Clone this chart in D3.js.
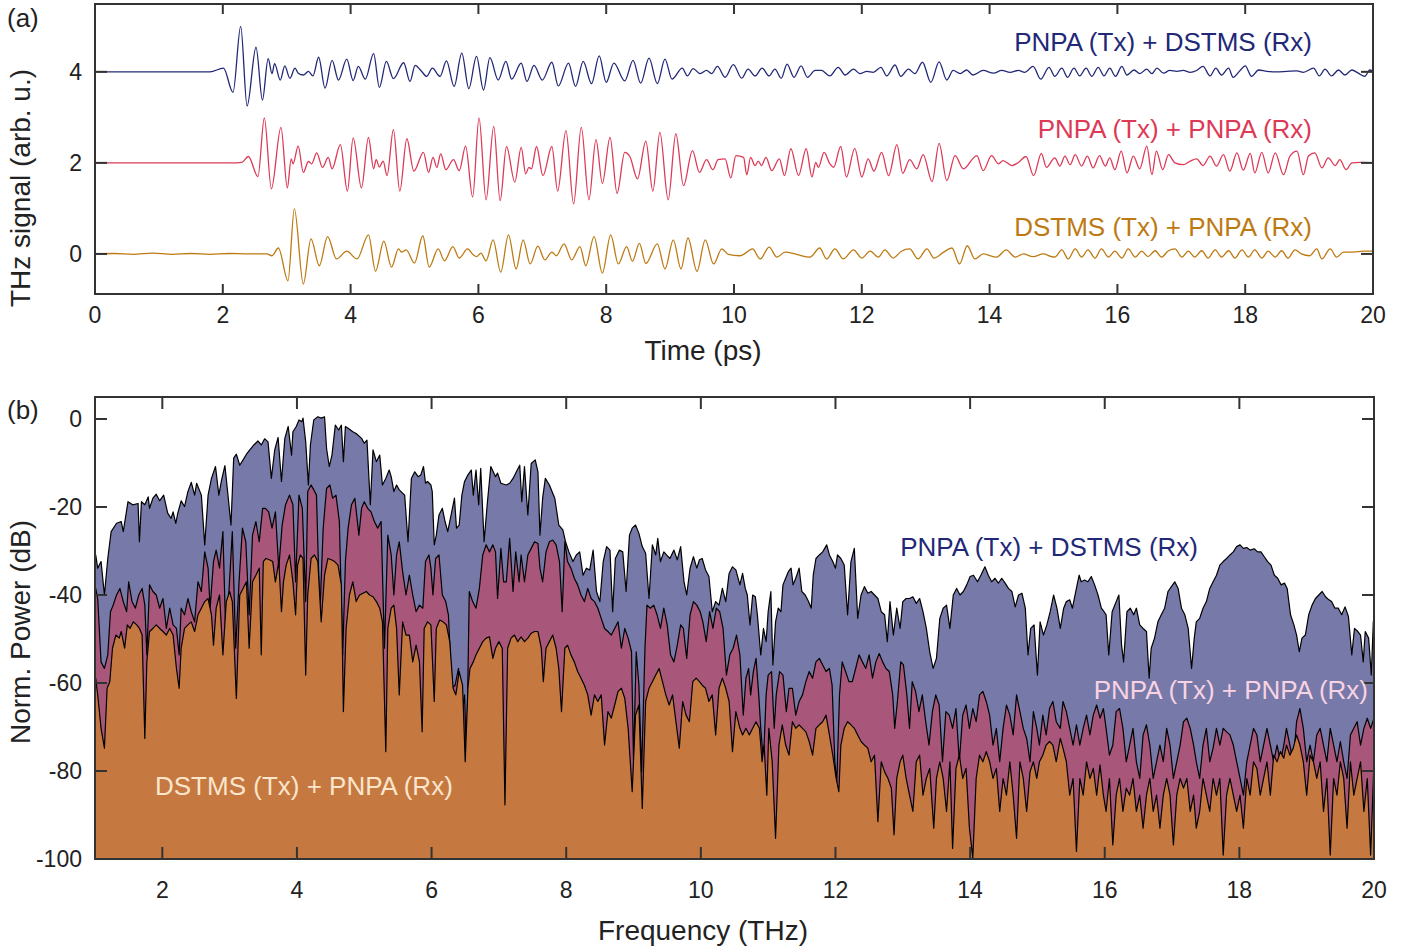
<!DOCTYPE html>
<html><head><meta charset="utf-8">
<script src="https://cdn.jsdelivr.net/npm/d3@7"></script>
<style>
body{margin:0;background:#fff;}
svg{display:block;font-family:"Liberation Sans",Arial,sans-serif;}
</style></head><body>
<svg id="chart" width="1412" height="950"></svg>
<script>
// ---------------- Panel (a): time-domain traces [time ps, signal] ----------------
const timeTicks = [0,2,4,6,8,10,12,14,16,18,20];
const signalTicks = [0,2,4];
const offsetPD = 4, offsetPP = 2, offsetDP = 0;
const labelPD = "PNPA (Tx) + DSTMS (Rx)";
const labelPP = "PNPA (Tx) + PNPA (Rx)";
const labelDP = "DSTMS (Tx) + PNPA (Rx)";

const tracePD = [[0,0],[1.80,0],[2.01,0.08],[2.16,-0.45],[2.28,1.0],[2.38,-0.75],[2.52,0.54],[2.62,-0.62],[2.71,0.29],[2.77,-0.04],[2.81,0.18],[2.90,-0.18],[2.97,0.13],[3.05,-0.14],[3.13,0.08],[3.18,-0.03],[3.26,-0.07],[3.34,0.01],[3.41,-0.09],[3.50,0.32],[3.60,-0.36],[3.71,0.25],[3.81,-0.18],[3.94,0.28],[4.04,-0.19],[4.12,0.12],[4.23,-0.16],[4.36,0.40],[4.45,-0.34],[4.56,0.23],[4.67,-0.15],[4.83,0.20],[4.93,-0.21],[5.01,0.14],[5.10,0.03],[5.19,-0.10],[5.28,0.08],[5.40,-0.10],[5.50,0.24],[5.62,-0.32],[5.74,0.41],[5.85,-0.37],[5.97,0.34],[6.08,-0.40],[6.18,0.31],[6.31,-0.18],[6.43,0.23],[6.52,-0.16],[6.67,0.19],[6.76,-0.21],[6.87,0.14],[7.00,-0.18],[7.15,0.21],[7.25,-0.31],[7.41,0.19],[7.52,-0.32],[7.64,0.23],[7.77,-0.26],[7.89,0.35],[8.00,-0.23],[8.12,0.19],[8.29,-0.20],[8.42,0.25],[8.54,-0.25],[8.67,0.30],[8.80,-0.26],[8.92,0.28],[9.03,-0.16],[9.19,0.08],[9.27,-0.09],[9.36,0.07],[9.47,-0.04],[9.57,0.03],[9.65,-0.04],[9.74,0.12],[9.86,-0.12],[9.99,0.16],[10.12,-0.14],[10.22,0.06],[10.33,-0.09],[10.44,0.08],[10.55,-0.09],[10.64,0.06],[10.74,-0.14],[10.83,0.17],[10.94,-0.12],[11.05,0.13],[11.15,-0.12],[11.27,0.03],[11.37,0.03],[11.50,-0.09],[11.63,0.10],[11.74,-0.07],[11.87,0.06],[11.97,-0.04],[12.08,0.01],[12.18,-0.01],[12.30,0.10],[12.39,-0.09],[12.52,0.15],[12.61,-0.10],[12.73,0.06],[12.83,-0.04],[12.95,0.21],[13.08,-0.23],[13.21,0.22],[13.33,-0.18],[13.43,0.03],[13.54,-0.04],[13.64,0.04],[13.74,-0.07],[13.90,0.03],[14.06,-0.03],[14.19,0.03],[14.32,-0.01],[14.45,0.03],[14.55,-0.01],[14.68,0.12],[14.80,-0.16],[14.93,0.10],[15.02,-0.10],[15.13,0.08],[15.22,-0.12],[15.32,0.08],[15.41,-0.09],[15.51,0.08],[15.60,-0.10],[15.70,0.10],[15.79,-0.09],[15.88,0.08],[15.97,-0.10],[16.07,0.12],[16.15,-0.07],[16.26,0.04],[16.35,-0.04],[16.46,0.06],[16.54,-0.04],[16.62,0.08],[16.72,-0.03],[16.82,0.03],[16.93,0.01],[17.03,0.03],[17.14,-0.01],[17.24,0.03],[17.34,0.12],[17.45,-0.09],[17.54,0.08],[17.63,-0.07],[17.74,0.08],[17.81,-0.12],[17.92,0.03],[18.00,0.13],[18.10,-0.10],[18.21,0.04],[18.34,0.01],[18.49,0],[18.65,0.01],[18.81,0.02],[18.91,-0.01],[19.07,0.08],[19.16,-0.09],[19.25,0.06],[19.35,-0.09],[19.46,0.04],[19.56,-0.07],[19.67,0.04],[19.77,-0.03],[19.87,-0.10],[19.95,0.04],[20,0.01]];

const tracePP = [[0,0],[2.22,0],[2.30,0.01],[2.40,0.14],[2.55,-0.30],[2.65,0.99],[2.76,-0.57],[2.91,0.78],[3.01,-0.55],[3.07,0.09],[3.10,-0.02],[3.18,0.37],[3.26,-0.21],[3.34,0.03],[3.39,-0.02],[3.47,0.22],[3.56,-0.10],[3.65,0.12],[3.71,-0.13],[3.84,0.40],[3.95,-0.62],[4.04,0.55],[4.17,-0.55],[4.28,0.56],[4.36,-0.13],[4.40,0.07],[4.45,-0.09],[4.51,0.04],[4.57,-0.28],[4.67,0.73],[4.77,-0.62],[4.88,0.53],[4.99,-0.18],[5.14,0.23],[5.22,-0.21],[5.29,0.12],[5.35,-0.10],[5.41,0.20],[5.49,-0.15],[5.61,0.07],[5.70,-0.17],[5.80,0.37],[5.91,-0.75],[6.01,0.99],[6.12,-0.81],[6.24,0.80],[6.34,-0.83],[6.44,0.36],[6.57,-0.42],[6.67,0.34],[6.74,-0.24],[6.79,-0.10],[6.83,-0.13],[6.91,0.36],[7.01,-0.28],[7.15,0.36],[7.24,-0.62],[7.37,0.71],[7.49,-0.90],[7.61,0.78],[7.73,-0.81],[7.84,0.51],[7.94,-0.45],[8.06,0.56],[8.17,-0.67],[8.29,0.23],[8.37,0.14],[8.49,-0.35],[8.62,0.48],[8.73,-0.62],[8.84,0.67],[8.97,-0.81],[9.09,0.64],[9.21,-0.50],[9.35,0.27],[9.46,-0.21],[9.57,0.07],[9.67,-0.15],[9.75,0.07],[9.86,0.09],[9.95,-0.33],[10.03,0.16],[10.15,0.12],[10.20,-0.26],[10.26,0.12],[10.33,-0.06],[10.38,0.04],[10.43,-0.06],[10.50,0.12],[10.59,-0.17],[10.71,0.09],[10.79,-0.28],[10.89,0.31],[11.01,-0.28],[11.13,0.31],[11.22,-0.31],[11.28,0.01],[11.32,-0.10],[11.41,0.23],[11.50,-0.02],[11.56,-0.10],[11.67,0.36],[11.76,-0.31],[11.89,0.32],[12.00,-0.31],[12.10,0.09],[12.19,-0.18],[12.31,0.23],[12.42,-0.28],[12.55,0.40],[12.64,-0.23],[12.75,0.07],[12.86,-0.13],[12.96,0.18],[13.10,-0.41],[13.21,0.43],[13.33,-0.39],[13.46,0.16],[13.59,-0.13],[13.80,0.16],[13.90,-0.17],[14.03,0.16],[14.14,-0.02],[14.21,0.05],[14.35,-0.06],[14.45,0.01],[14.57,0.14],[14.69,-0.28],[14.81,0.21],[14.89,-0.10],[15.02,0.11],[15.10,-0.07],[15.18,0.15],[15.26,-0.04],[15.34,0.18],[15.44,-0.07],[15.53,0.15],[15.62,-0.11],[15.72,0.16],[15.81,-0.07],[15.88,0.11],[15.96,-0.15],[16.06,0.26],[16.15,-0.22],[16.25,0.15],[16.35,-0.13],[16.46,0.37],[16.54,-0.26],[16.61,0.26],[16.71,-0.15],[16.80,0.18],[16.90,0],[17.03,-0.04],[17.14,0.04],[17.24,0.09],[17.34,-0.06],[17.45,0.15],[17.55,-0.07],[17.66,0.18],[17.76,-0.18],[17.87,0.22],[17.97,-0.16],[18.08,0.21],[18.15,-0.22],[18.26,0.23],[18.36,-0.22],[18.47,0.22],[18.60,-0.26],[18.70,0.15],[18.81,0.26],[18.91,-0.26],[18.99,0.15],[19.09,0.22],[19.20,-0.11],[19.30,0.11],[19.41,-0.06],[19.48,0.07],[19.58,-0.15],[19.67,0],[19.80,0.01],[20,0]];

const traceDP = [[0,0],[0.3,0.01],[0.6,-0.01],[0.9,0.02],[1.2,-0.01],[1.5,0.01],[1.8,-0.01],[2.1,0.01],[2.4,0],[2.69,0],[2.77,-0.04],[2.87,0.13],[3.02,-0.59],[3.12,0.99],[3.26,-0.66],[3.38,0.33],[3.51,-0.26],[3.64,0.38],[3.78,-0.11],[3.94,0.06],[4.10,-0.11],[4.28,0.42],[4.39,-0.38],[4.52,0.28],[4.64,-0.29],[4.75,0.11],[4.80,0.04],[4.87,0.09],[5.00,-0.20],[5.13,0.40],[5.23,-0.29],[5.37,0.11],[5.47,-0.15],[5.60,0.16],[5.70,-0.09],[5.83,0.11],[5.92,-0.02],[5.97,-0.06],[6.04,0.02],[6.12,-0.15],[6.23,0.31],[6.35,-0.40],[6.47,0.42],[6.59,-0.33],[6.70,0.31],[6.81,-0.22],[6.93,0.17],[7.04,-0.13],[7.15,0.04],[7.22,-0.04],[7.34,0.22],[7.46,-0.13],[7.59,0.16],[7.68,-0.26],[7.81,0.38],[7.94,-0.42],[8.07,0.42],[8.19,-0.22],[8.32,0.16],[8.41,-0.16],[8.52,0.23],[8.62,-0.21],[8.80,0.22],[8.92,-0.33],[9.05,0.31],[9.17,-0.33],[9.28,0.35],[9.42,-0.38],[9.55,0.31],[9.68,-0.22],[9.81,0.11],[9.91,-0.01],[10.09,-0.04],[10.15,-0.01],[10.29,0.11],[10.41,-0.11],[10.55,0.15],[10.67,-0.07],[10.80,0.04],[10.98,-0.01],[11.19,-0.07],[11.34,0.13],[11.45,-0.11],[11.58,0.11],[11.71,-0.11],[11.87,0.09],[12.00,-0.09],[12.13,0.06],[12.26,-0.07],[12.36,0.09],[12.49,-0.09],[12.62,0.06],[12.75,0.11],[12.88,-0.11],[13.02,0.11],[13.13,-0.09],[13.28,0.04],[13.41,0.13],[13.53,-0.22],[13.65,0.18],[13.77,-0.11],[13.90,0],[14.11,-0.07],[14.26,0.09],[14.40,-0.07],[14.53,0],[14.68,-0.06],[14.84,0],[14.97,-0.06],[15.02,-0.07],[15.13,0.09],[15.23,-0.11],[15.34,0.11],[15.44,-0.07],[15.54,0.09],[15.65,-0.09],[15.75,0.11],[15.86,-0.07],[15.96,0.06],[16.07,-0.09],[16.17,0.11],[16.28,-0.07],[16.38,0.06],[16.48,-0.06],[16.59,0.07],[16.69,-0.07],[16.80,0.07],[16.90,0.11],[17.01,-0.07],[17.11,0.06],[17.21,-0.07],[17.32,0.07],[17.42,-0.09],[17.53,0.09],[17.63,-0.07],[17.74,0.07],[17.84,-0.09],[17.95,0.09],[18.05,-0.07],[18.15,0.09],[18.26,-0.09],[18.36,0.06],[18.47,-0.07],[18.57,0.07],[18.67,-0.09],[18.78,0.09],[18.88,0],[19.01,-0.04],[19.12,0.11],[19.20,-0.11],[19.33,0.11],[19.43,-0.07],[19.54,0.04],[19.69,0.04],[19.85,0.06],[20,0.06]];

// ---------------- Panel (b): spectra [frequency THz, power dB] ----------------
const freqTicks = [2,4,6,8,10,12,14,16,18,20];
const powerTicks = [0,-20,-40,-60,-80,-100];

const spectrumPD = [[1.01,-30.9],[1.04,-33.9],[1.09,-32.4],[1.14,-40.0],[1.19,-31.7],[1.24,-25.6],[1.32,-23.7],[1.39,-23.3],[1.42,-25.6],[1.49,-18.8],[1.56,-19.5],[1.64,-19.2],[1.66,-27.9],[1.69,-18.8],[1.74,-19.5],[1.79,-17.7],[1.81,-20.3],[1.86,-18.0],[1.91,-17.1],[1.96,-18.6],[2.02,-17.3],[2.08,-21.4],[2.13,-22.6],[2.16,-21.1],[2.20,-23.7],[2.23,-21.4],[2.28,-18.6],[2.33,-19.9],[2.38,-16.5],[2.43,-14.4],[2.48,-17.3],[2.51,-14.6],[2.58,-17.3],[2.63,-28.6],[2.68,-17.3],[2.73,-13.5],[2.79,-10.8],[2.84,-17.3],[2.88,-13.9],[2.93,-10.6],[2.98,-18.0],[3.02,-24.1],[3.06,-8.9],[3.10,-8.0],[3.15,-10.5],[3.20,-9.3],[3.25,-8.0],[3.30,-7.0],[3.36,-5.9],[3.42,-5.0],[3.47,-5.9],[3.52,-4.5],[3.57,-5.2],[3.62,-13.5],[3.67,-7.0],[3.72,-4.2],[3.77,-14.2],[3.82,-4.4],[3.87,-1.7],[3.92,-8.2],[3.94,-2.9],[3.99,-1.7],[4.03,-0.2],[4.07,-0.6],[4.09,0.2],[4.13,-5.2],[4.17,-15.0],[4.20,-5.9],[4.25,-0.2],[4.31,0.5],[4.36,0.2],[4.41,0.5],[4.44,-6.7],[4.48,-10.8],[4.52,-8.2],[4.57,-1.4],[4.62,-2.5],[4.66,-1.4],[4.69,-9.7],[4.72,-1.7],[4.76,-2.1],[4.83,-2.9],[4.88,-3.3],[4.96,-4.4],[5.00,-5.5],[5.04,-4.8],[5.09,-19.5],[5.13,-7.0],[5.18,-9.7],[5.23,-8.2],[5.27,-15.0],[5.32,-13.5],[5.37,-11.6],[5.40,-13.1],[5.44,-16.5],[5.48,-15.0],[5.52,-16.1],[5.60,-17.3],[5.65,-27.9],[5.70,-13.5],[5.75,-12.0],[5.80,-13.1],[5.84,-12.7],[5.88,-10.8],[5.91,-14.6],[5.94,-14.2],[5.99,-15.0],[6.01,-16.5],[6.04,-28.6],[6.07,-26.4],[6.11,-21.8],[6.16,-20.3],[6.20,-23.3],[6.24,-25.6],[6.29,-21.8],[6.34,-18.0],[6.37,-24.8],[6.41,-24.1],[6.45,-17.3],[6.49,-14.2],[6.54,-12.7],[6.59,-11.6],[6.62,-17.3],[6.66,-11.6],[6.70,-19.5],[6.73,-11.2],[6.78,-27.9],[6.83,-18.8],[6.88,-10.8],[6.95,-13.1],[6.98,-12.3],[7.03,-14.6],[7.11,-15.0],[7.16,-14.6],[7.21,-13.5],[7.26,-12.0],[7.31,-10.5],[7.34,-18.8],[7.38,-10.8],[7.43,-21.8],[7.48,-10.1],[7.54,-9.3],[7.58,-12.0],[7.61,-26.4],[7.65,-18.0],[7.69,-13.5],[7.75,-15.0],[7.83,-18.0],[7.89,-24.1],[7.95,-25.2],[7.99,-27.9],[8.04,-30.2],[8.10,-32.4],[8.15,-30.9],[8.20,-30.2],[8.25,-35.5],[8.30,-33.9],[8.35,-34.3],[8.40,-29.8],[8.45,-39.2],[8.50,-41.5],[8.55,-32.4],[8.60,-29.0],[8.65,-29.8],[8.69,-43.8],[8.73,-31.7],[8.79,-29.8],[8.84,-30.2],[8.89,-39.2],[8.94,-26.4],[8.98,-24.8],[9.03,-24.1],[9.08,-26.0],[9.13,-29.0],[9.18,-30.5],[9.23,-40.8],[9.28,-28.6],[9.33,-30.9],[9.36,-27.1],[9.40,-32.4],[9.45,-30.2],[9.49,-30.9],[9.54,-31.7],[9.60,-29.8],[9.65,-32.0],[9.70,-29.0],[9.75,-37.0],[9.79,-40.0],[9.84,-33.9],[9.89,-31.3],[9.94,-33.9],[9.98,-32.0],[10.02,-31.7],[10.07,-34.3],[10.12,-35.8],[10.17,-43.8],[10.22,-41.5],[10.27,-42.3],[10.32,-38.5],[10.37,-41.5],[10.42,-35.1],[10.47,-33.6],[10.52,-34.3],[10.58,-37.7],[10.62,-35.1],[10.66,-38.5],[10.69,-40.0],[10.73,-46.8],[10.77,-40.0],[10.81,-40.4],[10.84,-44.5],[10.89,-53.6],[10.93,-47.6],[10.97,-50.6],[11.00,-43.8],[11.04,-39.2],[11.07,-55.9],[11.11,-46.1],[11.15,-43.0],[11.19,-43.8],[11.22,-37.7],[11.26,-36.2],[11.30,-34.7],[11.34,-33.9],[11.37,-37.7],[11.41,-36.2],[11.46,-33.9],[11.50,-39.2],[11.55,-40.0],[11.60,-41.5],[11.64,-43.0],[11.67,-35.5],[11.71,-31.7],[11.76,-30.9],[11.81,-30.2],[11.87,-28.6],[11.91,-30.9],[11.96,-32.4],[12.00,-33.9],[12.03,-30.9],[12.08,-31.7],[12.13,-33.2],[12.18,-44.5],[12.23,-32.4],[12.28,-29.4],[12.33,-45.3],[12.38,-40.0],[12.43,-38.1],[12.48,-39.6],[12.53,-39.2],[12.58,-40.0],[12.63,-40.8],[12.68,-43.8],[12.73,-44.5],[12.77,-50.6],[12.81,-41.5],[12.86,-49.1],[12.91,-43.0],[12.96,-47.6],[13.00,-41.5],[13.05,-40.8],[13.10,-40.8],[13.15,-40.4],[13.20,-41.9],[13.25,-40.8],[13.30,-43.8],[13.35,-47.6],[13.40,-52.9],[13.45,-56.7],[13.50,-54.4],[13.55,-45.3],[13.60,-43.0],[13.65,-42.3],[13.70,-47.6],[13.75,-40.0],[13.80,-38.5],[13.85,-40.0],[13.90,-39.2],[13.95,-37.7],[14.00,-35.8],[14.05,-35.5],[14.11,-37.0],[14.16,-35.5],[14.22,-33.6],[14.27,-35.5],[14.32,-37.0],[14.37,-36.2],[14.42,-37.3],[14.47,-36.2],[14.52,-37.3],[14.57,-38.5],[14.62,-39.2],[14.67,-42.7],[14.72,-40.0],[14.77,-39.6],[14.82,-43.0],[14.86,-53.6],[14.90,-47.6],[14.95,-46.8],[15.00,-58.2],[15.04,-46.1],[15.09,-49.1],[15.14,-46.8],[15.19,-43.8],[15.24,-40.0],[15.29,-43.0],[15.34,-47.6],[15.39,-43.0],[15.43,-41.5],[15.48,-41.1],[15.52,-43.0],[15.57,-39.2],[15.62,-35.5],[15.65,-37.0],[15.70,-36.6],[15.75,-37.0],[15.80,-35.8],[15.85,-37.7],[15.90,-40.0],[15.95,-43.0],[15.99,-43.8],[16.02,-44.5],[16.06,-53.6],[16.11,-43.8],[16.17,-41.5],[16.21,-40.0],[16.25,-51.4],[16.28,-55.2],[16.33,-43.8],[16.38,-43.0],[16.43,-44.5],[16.47,-43.0],[16.52,-46.8],[16.57,-47.6],[16.62,-48.3],[16.66,-58.9],[16.69,-52.1],[16.74,-49.8],[16.79,-46.1],[16.84,-44.5],[16.89,-43.0],[16.94,-39.2],[16.99,-38.1],[17.04,-37.0],[17.09,-38.5],[17.14,-43.0],[17.19,-44.5],[17.24,-47.6],[17.29,-56.7],[17.33,-49.8],[17.36,-46.1],[17.41,-45.3],[17.46,-43.0],[17.51,-41.5],[17.56,-38.5],[17.61,-37.0],[17.66,-35.5],[17.71,-33.2],[17.76,-32.4],[17.81,-31.7],[17.86,-30.9],[17.91,-30.2],[17.96,-29.0],[18.01,-28.6],[18.06,-29.4],[18.11,-29.2],[18.16,-29.8],[18.22,-29.5],[18.27,-30.2],[18.32,-30.2],[18.37,-31.3],[18.42,-32.4],[18.47,-33.2],[18.52,-35.5],[18.57,-36.2],[18.62,-37.7],[18.67,-37.3],[18.71,-38.5],[18.76,-44.5],[18.81,-46.8],[18.85,-49.1],[18.89,-52.9],[18.93,-49.8],[18.98,-49.1],[19.03,-44.5],[19.08,-42.3],[19.13,-40.8],[19.18,-40.0],[19.23,-39.2],[19.28,-40.4],[19.33,-41.1],[19.37,-41.5],[19.42,-43.0],[19.47,-43.0],[19.52,-44.5],[19.57,-42.7],[19.62,-44.9],[19.67,-53.6],[19.71,-47.6],[19.76,-48.3],[19.80,-49.1],[19.84,-55.2],[19.87,-48.3],[19.92,-49.8],[19.96,-58.2],[19.99,-46.1],[20.0,-45.3]];

const spectrumPP = [[1.01,-38.5],[1.04,-40.8],[1.09,-55.2],[1.14,-56.7],[1.19,-53.6],[1.23,-43.8],[1.27,-42.3],[1.32,-40.0],[1.37,-38.5],[1.42,-41.5],[1.47,-43.8],[1.50,-37.0],[1.55,-41.5],[1.60,-43.0],[1.65,-40.0],[1.70,-38.5],[1.74,-42.3],[1.77,-53.6],[1.81,-37.7],[1.86,-39.2],[1.91,-40.0],[1.96,-43.0],[2.01,-40.8],[2.06,-47.6],[2.11,-43.0],[2.16,-46.8],[2.21,-47.6],[2.25,-53.6],[2.28,-43.0],[2.33,-44.5],[2.38,-40.8],[2.43,-43.8],[2.48,-46.1],[2.53,-37.0],[2.58,-39.2],[2.63,-30.2],[2.68,-33.9],[2.71,-43.0],[2.76,-32.4],[2.80,-29.8],[2.85,-33.9],[2.90,-25.6],[2.94,-47.6],[2.99,-39.2],[3.04,-25.6],[3.09,-52.1],[3.14,-37.0],[3.19,-24.8],[3.24,-27.9],[3.29,-44.5],[3.34,-26.4],[3.39,-23.3],[3.44,-27.9],[3.49,-20.3],[3.53,-20.3],[3.58,-21.1],[3.63,-24.8],[3.68,-21.1],[3.73,-33.9],[3.78,-24.1],[3.83,-19.5],[3.89,-17.3],[3.94,-19.5],[3.98,-37.0],[4.03,-17.3],[4.08,-20.3],[4.13,-41.5],[4.16,-16.5],[4.21,-15.0],[4.25,-16.1],[4.29,-17.3],[4.34,-44.5],[4.39,-24.8],[4.44,-15.8],[4.49,-15.0],[4.53,-18.0],[4.58,-17.3],[4.63,-23.3],[4.68,-53.6],[4.72,-32.4],[4.76,-24.8],[4.81,-19.5],[4.86,-18.0],[4.92,-26.4],[4.96,-20.3],[5.00,-18.8],[5.05,-20.3],[5.10,-21.1],[5.15,-23.3],[5.20,-24.8],[5.25,-23.3],[5.30,-52.1],[5.35,-26.4],[5.40,-30.9],[5.44,-40.0],[5.48,-30.9],[5.52,-27.9],[5.57,-34.7],[5.62,-40.0],[5.67,-35.5],[5.72,-40.0],[5.77,-43.8],[5.82,-42.3],[5.87,-43.0],[5.91,-32.4],[5.96,-30.9],[5.99,-33.9],[6.02,-40.0],[6.06,-31.7],[6.11,-30.9],[6.16,-40.0],[6.21,-41.5],[6.25,-44.5],[6.30,-61.2],[6.35,-60.5],[6.40,-56.7],[6.45,-67.3],[6.49,-62.7],[6.52,-77.9],[6.56,-39.2],[6.61,-41.5],[6.66,-43.0],[6.71,-38.5],[6.76,-30.9],[6.81,-28.6],[6.86,-30.2],[6.91,-28.6],[6.95,-30.2],[6.98,-40.8],[7.03,-29.4],[7.07,-37.0],[7.11,-37.0],[7.16,-27.1],[7.21,-39.2],[7.25,-30.2],[7.30,-37.0],[7.33,-30.9],[7.38,-37.0],[7.43,-30.9],[7.48,-29.4],[7.53,-27.9],[7.58,-28.3],[7.61,-33.9],[7.65,-37.0],[7.70,-30.2],[7.75,-27.9],[7.80,-27.5],[7.85,-28.6],[7.90,-32.4],[7.94,-43.8],[7.98,-27.9],[8.02,-32.4],[8.07,-33.9],[8.12,-36.2],[8.17,-37.7],[8.22,-40.0],[8.27,-41.5],[8.32,-38.5],[8.37,-40.8],[8.42,-41.5],[8.47,-43.0],[8.52,-45.3],[8.57,-47.6],[8.62,-48.3],[8.67,-49.1],[8.72,-47.6],[8.77,-46.1],[8.82,-52.1],[8.87,-47.6],[8.92,-49.8],[8.97,-52.9],[9.00,-77.9],[9.04,-52.9],[9.08,-60.5],[9.12,-80.2],[9.17,-52.1],[9.20,-42.3],[9.25,-43.0],[9.30,-42.3],[9.35,-44.5],[9.40,-47.6],[9.45,-43.0],[9.50,-46.8],[9.55,-53.6],[9.60,-55.2],[9.65,-51.4],[9.70,-46.8],[9.74,-47.6],[9.79,-54.4],[9.84,-44.5],[9.89,-41.5],[9.94,-42.3],[9.99,-43.8],[10.03,-46.1],[10.08,-50.6],[10.13,-43.8],[10.18,-47.6],[10.23,-43.0],[10.28,-43.8],[10.33,-47.6],[10.38,-58.2],[10.43,-53.6],[10.48,-52.1],[10.53,-49.1],[10.58,-53.6],[10.63,-67.3],[10.67,-58.9],[10.71,-56.7],[10.74,-62.7],[10.78,-57.4],[10.82,-54.4],[10.86,-62.7],[10.89,-70.3],[10.93,-77.9],[10.97,-62.7],[11.00,-58.2],[11.05,-57.4],[11.09,-70.3],[11.12,-62.7],[11.17,-57.4],[11.22,-58.2],[11.27,-66.5],[11.31,-61.2],[11.36,-61.2],[11.41,-67.3],[11.46,-64.2],[11.51,-62.7],[11.56,-59.7],[11.61,-57.4],[11.66,-58.9],[11.71,-55.2],[11.76,-54.4],[11.81,-55.9],[11.86,-57.4],[11.91,-56.7],[11.95,-60.5],[11.99,-77.9],[12.02,-82.4],[12.06,-62.7],[12.10,-55.2],[12.15,-57.4],[12.20,-59.7],[12.25,-59.7],[12.30,-56.7],[12.35,-53.6],[12.40,-55.2],[12.45,-56.7],[12.50,-53.6],[12.55,-58.9],[12.60,-55.2],[12.65,-53.3],[12.70,-55.2],[12.75,-56.7],[12.80,-57.4],[12.85,-62.7],[12.88,-70.3],[12.92,-64.2],[12.97,-55.2],[13.01,-55.9],[13.06,-62.7],[13.10,-70.3],[13.14,-59.7],[13.19,-61.9],[13.24,-66.5],[13.29,-62.7],[13.34,-68.8],[13.39,-74.1],[13.44,-66.5],[13.49,-62.7],[13.54,-65.0],[13.59,-77.9],[13.64,-66.5],[13.69,-67.3],[13.74,-70.3],[13.79,-65.8],[13.84,-77.9],[13.89,-67.3],[13.94,-65.0],[13.99,-70.3],[14.04,-65.8],[14.09,-68.8],[14.14,-62.7],[14.19,-61.9],[14.24,-64.2],[14.29,-67.3],[14.34,-74.1],[14.39,-70.3],[14.44,-77.9],[14.49,-70.3],[14.54,-65.0],[14.59,-67.3],[14.64,-71.8],[14.69,-62.7],[14.74,-66.5],[14.79,-70.3],[14.84,-72.6],[14.89,-77.9],[14.94,-66.5],[14.99,-70.3],[15.03,-74.1],[15.08,-67.3],[15.13,-71.8],[15.18,-65.8],[15.23,-64.2],[15.28,-68.8],[15.34,-70.3],[15.38,-64.2],[15.43,-66.5],[15.48,-70.3],[15.53,-74.1],[15.58,-69.5],[15.63,-74.1],[15.68,-70.3],[15.73,-67.3],[15.78,-71.8],[15.83,-67.3],[15.88,-65.0],[15.93,-68.0],[15.98,-65.8],[16.02,-70.3],[16.07,-76.4],[16.12,-74.1],[16.17,-66.5],[16.22,-65.8],[16.27,-70.3],[16.32,-77.9],[16.37,-74.1],[16.42,-70.3],[16.47,-77.9],[16.52,-81.7],[16.57,-71.8],[16.62,-69.5],[16.67,-74.1],[16.72,-81.7],[16.77,-77.9],[16.82,-74.1],[16.87,-77.9],[16.92,-70.3],[16.97,-74.1],[17.02,-81.7],[17.07,-77.9],[17.12,-74.1],[17.17,-68.8],[17.22,-68.0],[17.27,-70.3],[17.32,-74.1],[17.36,-77.9],[17.41,-81.7],[17.46,-74.1],[17.51,-70.3],[17.56,-77.9],[17.61,-74.8],[17.66,-70.3],[17.71,-74.1],[17.76,-70.3],[17.81,-71.1],[17.86,-71.8],[17.91,-74.1],[17.96,-77.9],[18.01,-81.7],[18.06,-85.5],[18.11,-77.9],[18.16,-74.1],[18.21,-70.3],[18.26,-71.8],[18.31,-77.9],[18.36,-74.1],[18.41,-70.3],[18.46,-74.1],[18.51,-77.9],[18.56,-74.1],[18.61,-77.9],[18.66,-74.1],[18.70,-70.3],[18.75,-74.1],[18.80,-77.9],[18.85,-68.8],[18.90,-65.8],[18.95,-70.3],[19.00,-77.9],[19.05,-74.1],[19.10,-77.9],[19.15,-71.8],[19.20,-70.3],[19.25,-74.1],[19.30,-77.9],[19.35,-70.3],[19.40,-74.1],[19.45,-77.9],[19.50,-73.3],[19.55,-77.9],[19.60,-81.7],[19.65,-71.8],[19.70,-70.3],[19.75,-68.8],[19.80,-74.1],[19.85,-70.3],[19.90,-68.0],[19.95,-70.3],[20.0,-68.0]];

const spectrumDP = [[1.01,-58.9],[1.04,-62.7],[1.09,-70.3],[1.14,-74.8],[1.18,-61.2],[1.22,-59.7],[1.26,-52.1],[1.31,-49.1],[1.36,-49.8],[1.39,-48.3],[1.44,-52.1],[1.48,-46.8],[1.52,-47.6],[1.57,-46.1],[1.62,-46.8],[1.66,-47.6],[1.70,-49.1],[1.74,-72.6],[1.77,-55.2],[1.81,-48.3],[1.86,-47.6],[1.91,-46.8],[1.96,-47.6],[2.01,-48.3],[2.06,-49.1],[2.11,-47.6],[2.16,-49.1],[2.21,-56.7],[2.25,-61.2],[2.28,-52.1],[2.33,-47.6],[2.38,-46.8],[2.43,-46.1],[2.48,-48.3],[2.53,-44.5],[2.58,-43.0],[2.63,-41.5],[2.68,-40.8],[2.73,-44.5],[2.76,-51.4],[2.80,-43.0],[2.85,-40.0],[2.90,-53.6],[2.95,-41.5],[3.00,-39.2],[3.04,-41.5],[3.10,-63.5],[3.15,-40.0],[3.20,-38.5],[3.25,-37.0],[3.29,-52.1],[3.34,-37.0],[3.39,-35.5],[3.44,-33.9],[3.47,-53.6],[3.50,-32.4],[3.54,-31.7],[3.59,-32.0],[3.64,-32.4],[3.68,-37.0],[3.73,-32.4],[3.77,-43.8],[3.80,-37.0],[3.84,-33.2],[3.89,-30.9],[3.94,-37.0],[3.98,-44.5],[4.01,-33.2],[4.05,-30.9],[4.09,-31.7],[4.13,-58.2],[4.16,-40.0],[4.21,-31.7],[4.26,-30.9],[4.31,-32.4],[4.36,-46.1],[4.41,-35.5],[4.46,-31.7],[4.51,-32.0],[4.56,-32.4],[4.61,-33.2],[4.66,-37.7],[4.69,-66.5],[4.73,-47.6],[4.78,-40.0],[4.83,-37.0],[4.88,-41.5],[4.93,-40.0],[4.98,-39.6],[5.03,-39.2],[5.08,-40.0],[5.13,-40.4],[5.18,-41.5],[5.23,-43.0],[5.27,-46.1],[5.32,-75.6],[5.35,-47.6],[5.40,-43.0],[5.44,-42.3],[5.48,-47.6],[5.52,-62.7],[5.57,-46.1],[5.62,-49.1],[5.67,-49.1],[5.72,-55.2],[5.77,-51.4],[5.82,-55.2],[5.86,-71.1],[5.89,-47.6],[5.94,-46.1],[5.99,-46.8],[6.04,-64.2],[6.07,-47.6],[6.12,-45.7],[6.17,-46.1],[6.22,-46.8],[6.27,-50.6],[6.32,-61.2],[6.36,-62.7],[6.41,-57.4],[6.46,-60.5],[6.50,-77.9],[6.54,-61.2],[6.57,-56.7],[6.62,-55.2],[6.66,-53.6],[6.71,-52.1],[6.76,-50.6],[6.81,-49.8],[6.86,-49.5],[6.91,-54.4],[6.95,-52.1],[7.00,-50.6],[7.05,-52.1],[7.09,-87.7],[7.13,-52.1],[7.18,-49.8],[7.23,-49.1],[7.28,-50.6],[7.33,-49.5],[7.38,-50.6],[7.43,-49.8],[7.48,-48.7],[7.53,-48.3],[7.58,-48.3],[7.63,-52.1],[7.66,-59.7],[7.70,-52.1],[7.75,-50.6],[7.80,-49.1],[7.85,-52.1],[7.89,-56.7],[7.93,-66.5],[7.98,-52.1],[8.02,-51.4],[8.07,-53.6],[8.12,-55.2],[8.17,-57.4],[8.22,-58.9],[8.27,-60.5],[8.32,-62.7],[8.37,-67.3],[8.42,-62.7],[8.47,-64.2],[8.52,-62.7],[8.57,-74.1],[8.62,-66.5],[8.67,-68.0],[8.72,-65.0],[8.77,-61.9],[8.82,-61.2],[8.87,-63.5],[8.92,-70.3],[8.98,-84.7],[9.03,-67.3],[9.08,-65.0],[9.13,-88.5],[9.18,-64.2],[9.23,-61.2],[9.28,-59.7],[9.33,-58.2],[9.38,-56.7],[9.43,-59.7],[9.48,-62.7],[9.53,-65.0],[9.58,-62.7],[9.63,-68.8],[9.68,-74.8],[9.73,-64.2],[9.78,-67.3],[9.83,-68.8],[9.88,-59.7],[9.93,-58.9],[9.98,-59.7],[10.02,-60.5],[10.07,-61.2],[10.12,-64.2],[10.17,-62.7],[10.22,-71.8],[10.27,-61.2],[10.32,-58.9],[10.37,-61.2],[10.42,-64.2],[10.47,-75.6],[10.52,-66.5],[10.58,-70.3],[10.62,-71.8],[10.67,-70.3],[10.72,-71.8],[10.77,-70.3],[10.82,-68.8],[10.87,-70.3],[10.91,-77.9],[10.94,-74.1],[10.98,-85.5],[11.01,-70.3],[11.06,-77.9],[11.11,-95.3],[11.16,-74.1],[11.21,-69.5],[11.26,-74.1],[11.31,-76.4],[11.36,-68.8],[11.41,-70.3],[11.46,-69.5],[11.51,-70.3],[11.56,-71.1],[11.61,-73.3],[11.66,-76.4],[11.71,-70.3],[11.76,-69.5],[11.81,-68.8],[11.86,-67.3],[11.91,-71.8],[11.96,-76.4],[12.01,-81.7],[12.05,-84.7],[12.08,-74.1],[12.13,-70.3],[12.18,-68.8],[12.23,-69.5],[12.28,-70.3],[12.33,-71.8],[12.38,-73.3],[12.43,-74.1],[12.48,-74.8],[12.53,-77.9],[12.58,-76.4],[12.63,-91.5],[12.68,-77.9],[12.73,-80.2],[12.78,-81.7],[12.83,-83.9],[12.87,-94.5],[12.91,-81.7],[12.96,-77.9],[13.00,-76.4],[13.05,-81.7],[13.10,-85.5],[13.15,-89.2],[13.20,-77.9],[13.25,-76.4],[13.30,-85.5],[13.35,-81.7],[13.40,-79.4],[13.46,-93.0],[13.50,-81.7],[13.55,-77.9],[13.60,-81.7],[13.65,-89.2],[13.70,-77.9],[13.74,-97.6],[13.79,-79.4],[13.84,-76.4],[13.89,-81.7],[13.94,-79.4],[13.99,-93.0],[14.04,-99.8],[14.09,-81.7],[14.14,-76.4],[14.19,-77.9],[14.24,-75.6],[14.29,-77.9],[14.34,-81.7],[14.39,-79.4],[14.44,-89.2],[14.49,-81.7],[14.54,-85.5],[14.59,-77.9],[14.64,-85.5],[14.69,-95.3],[14.74,-77.9],[14.79,-81.7],[14.84,-89.2],[14.89,-80.2],[14.94,-77.9],[14.99,-81.7],[15.03,-77.9],[15.08,-76.4],[15.13,-74.1],[15.18,-73.3],[15.23,-74.1],[15.28,-77.9],[15.34,-72.6],[15.38,-74.8],[15.43,-77.9],[15.48,-85.5],[15.53,-81.7],[15.58,-98.3],[15.63,-81.7],[15.68,-85.5],[15.73,-77.9],[15.78,-81.7],[15.83,-79.4],[15.88,-85.5],[15.93,-78.6],[15.98,-85.5],[16.02,-89.2],[16.07,-81.7],[16.12,-96.8],[16.17,-85.5],[16.22,-81.7],[16.27,-89.2],[16.32,-83.9],[16.37,-85.5],[16.42,-81.7],[16.47,-89.2],[16.52,-85.5],[16.57,-93.0],[16.62,-85.5],[16.67,-81.7],[16.72,-89.2],[16.77,-85.5],[16.82,-93.0],[16.87,-85.5],[16.92,-81.7],[16.97,-85.5],[17.02,-96.8],[17.07,-85.5],[17.12,-81.7],[17.17,-83.9],[17.22,-81.7],[17.27,-89.2],[17.32,-85.5],[17.36,-93.0],[17.41,-89.2],[17.46,-81.7],[17.51,-85.5],[17.56,-89.2],[17.61,-81.7],[17.66,-85.5],[17.71,-81.7],[17.76,-99.1],[17.81,-85.5],[17.86,-81.7],[17.91,-85.5],[17.96,-89.2],[18.01,-85.5],[18.06,-93.0],[18.11,-81.7],[18.16,-85.5],[18.21,-77.9],[18.26,-79.4],[18.31,-85.5],[18.36,-81.7],[18.41,-77.9],[18.46,-85.5],[18.51,-76.4],[18.56,-77.9],[18.61,-75.6],[18.66,-77.1],[18.70,-74.1],[18.75,-76.4],[18.80,-74.8],[18.85,-71.8],[18.90,-74.1],[18.95,-77.9],[19.00,-85.5],[19.05,-76.4],[19.10,-77.9],[19.15,-81.7],[19.20,-77.9],[19.25,-89.2],[19.30,-81.7],[19.35,-99.1],[19.40,-81.7],[19.45,-85.5],[19.50,-77.9],[19.55,-81.7],[19.60,-93.0],[19.65,-77.9],[19.70,-85.5],[19.75,-81.7],[19.80,-77.9],[19.85,-89.2],[19.90,-81.7],[19.95,-99.1],[20.0,-77.9]];

// ---------------- Drawing ----------------
const svg = d3.select("#chart");
const axisColor = "#333";
const fontTick = 23, fontTitle = 28, fontLabel = 26;

function frame(g, x0, x1, y0, y1) {
  g.append("rect").attr("x", x0).attr("y", y0).attr("width", x1 - x0).attr("height", y1 - y0)
    .attr("fill", "none").attr("stroke", axisColor).attr("stroke-width", 2);
}

// ---- Panel (a)
const A = {left: 95, right: 1373, top: 4, bottom: 294};
const xA = d3.scaleLinear().domain([0, 20]).range([A.left, A.right]);
const yA = d3.scaleLinear().domain([-0.88, 5.49]).range([A.bottom, A.top]);
const gA = svg.append("g");
const clipA = svg.append("clipPath").attr("id", "clipA");
clipA.append("rect").attr("x", A.left).attr("y", A.top).attr("width", A.right - A.left).attr("height", A.bottom - A.top);

const traces = [
  {data: tracePD, off: offsetPD, color: "#222877", label: labelPD, ly: 51},
  {data: tracePP, off: offsetPP, color: "#dc3a57", label: labelPP, ly: 138},
  {data: traceDP, off: offsetDP, color: "#bd7a12", label: labelDP, ly: 236}
];
const lineA = d3.line().curve(d3.curveMonotoneX);
traces.forEach(tr => {
  gA.append("path")
    .attr("d", lineA.x(d => xA(d[0])).y(d => yA(d[1] + tr.off))(tr.data))
    .attr("fill", "none").attr("stroke", tr.color).attr("stroke-width", 1.3)
    .attr("clip-path", "url(#clipA)");
});
frame(gA, A.left, A.right, A.top, A.bottom);
timeTicks.forEach(t => {
  gA.append("line").attr("x1", xA(t)).attr("x2", xA(t)).attr("y1", A.top).attr("y2", A.top + 10).attr("stroke", axisColor).attr("stroke-width", 2);
  gA.append("line").attr("x1", xA(t)).attr("x2", xA(t)).attr("y1", A.bottom).attr("y2", A.bottom - 10).attr("stroke", axisColor).attr("stroke-width", 2);
  gA.append("text").attr("x", xA(t)).attr("y", 323).attr("text-anchor", "middle").attr("font-size", fontTick).attr("fill", "#222").text(t);
});
signalTicks.forEach(v => {
  gA.append("line").attr("x1", A.left).attr("x2", A.left + 12).attr("y1", yA(v)).attr("y2", yA(v)).attr("stroke", axisColor).attr("stroke-width", 2);
  gA.append("line").attr("x1", A.right).attr("x2", A.right - 12).attr("y1", yA(v)).attr("y2", yA(v)).attr("stroke", axisColor).attr("stroke-width", 2);
  gA.append("text").attr("x", 82).attr("y", yA(v) + 8).attr("text-anchor", "end").attr("font-size", fontTick).attr("fill", "#222").text(v);
});
traces.forEach(tr => {
  gA.append("text").attr("x", 1312).attr("y", tr.ly).attr("text-anchor", "end").attr("font-size", fontLabel).attr("fill", tr.color).text(tr.label);
});
gA.append("text").attr("x", 703).attr("y", 360).attr("text-anchor", "middle").attr("font-size", fontTitle).attr("fill", "#222").text("Time (ps)");
gA.append("text").attr("transform", "translate(30,188) rotate(-90)").attr("text-anchor", "middle").attr("font-size", fontTitle).attr("fill", "#222").text("THz signal (arb. u.)");
gA.append("text").attr("x", 7).attr("y", 27).attr("font-size", 26).attr("fill", "#222").text("(a)");

// ---- Panel (b)
const B = {left: 95, right: 1374, top: 397, bottom: 859};
const xB = d3.scaleLinear().domain([1, 20]).range([B.left, B.right]);
const yB = d3.scaleLinear().domain([-100, 5]).range([B.bottom, B.top]);
const gB = svg.append("g");
const clipB = svg.append("clipPath").attr("id", "clipB");
clipB.append("rect").attr("x", B.left).attr("y", B.top).attr("width", B.right - B.left).attr("height", B.bottom - B.top);

const spectra = [
  {data: spectrumPD, fill: "#7779a8"},
  {data: spectrumPP, fill: "#a8577a"},
  {data: spectrumDP, fill: "#c67841"}
];
const areaB = d3.area().x(d => xB(d[0])).y0(yB(-100)).y1(d => yB(d[1]));
const lineB = d3.line().x(d => xB(d[0])).y(d => yB(d[1]));
spectra.forEach(s => {
  const data = [[1, s.data[0][1]]].concat(s.data);
  gB.append("path").attr("d", areaB(data)).attr("fill", s.fill).attr("clip-path", "url(#clipB)");
  gB.append("path").attr("d", lineB(data)).attr("fill", "none").attr("stroke", "#000").attr("stroke-width", 1.2)
    .attr("stroke-linejoin", "round").attr("clip-path", "url(#clipB)");
});
frame(gB, B.left, B.right, B.top, B.bottom);
freqTicks.forEach(f => {
  gB.append("line").attr("x1", xB(f)).attr("x2", xB(f)).attr("y1", B.top).attr("y2", B.top + 12).attr("stroke", axisColor).attr("stroke-width", 2);
  gB.append("line").attr("x1", xB(f)).attr("x2", xB(f)).attr("y1", B.bottom).attr("y2", B.bottom - 12).attr("stroke", axisColor).attr("stroke-width", 2);
  gB.append("text").attr("x", xB(f)).attr("y", 898).attr("text-anchor", "middle").attr("font-size", fontTick).attr("fill", "#222").text(f);
});
powerTicks.forEach(p => {
  gB.append("line").attr("x1", B.left).attr("x2", B.left + 12).attr("y1", yB(p)).attr("y2", yB(p)).attr("stroke", axisColor).attr("stroke-width", 2);
  gB.append("line").attr("x1", B.right).attr("x2", B.right - 12).attr("y1", yB(p)).attr("y2", yB(p)).attr("stroke", axisColor).attr("stroke-width", 2);
  gB.append("text").attr("x", 82).attr("y", yB(p) + 8).attr("text-anchor", "end").attr("font-size", fontTick).attr("fill", "#222").text(p);
});
gB.append("text").attr("x", 1198).attr("y", 556).attr("text-anchor", "end").attr("font-size", fontLabel).attr("fill", "#222877").text(labelPD);
gB.append("text").attr("x", 1368).attr("y", 699).attr("text-anchor", "end").attr("font-size", fontLabel).attr("fill", "#f8d3e3").text(labelPP);
gB.append("text").attr("x", 155).attr("y", 795).attr("text-anchor", "start").attr("font-size", fontLabel).attr("fill", "#fbe6cc").text(labelDP);
gB.append("text").attr("x", 703).attr("y", 940).attr("text-anchor", "middle").attr("font-size", fontTitle).attr("fill", "#222").text("Frequency (THz)");
gB.append("text").attr("transform", "translate(30,632) rotate(-90)").attr("text-anchor", "middle").attr("font-size", fontTitle).attr("fill", "#222").text("Norm. Power (dB)");
gB.append("text").attr("x", 7).attr("y", 419).attr("font-size", 26).attr("fill", "#222").text("(b)");
</script>
</body></html>
